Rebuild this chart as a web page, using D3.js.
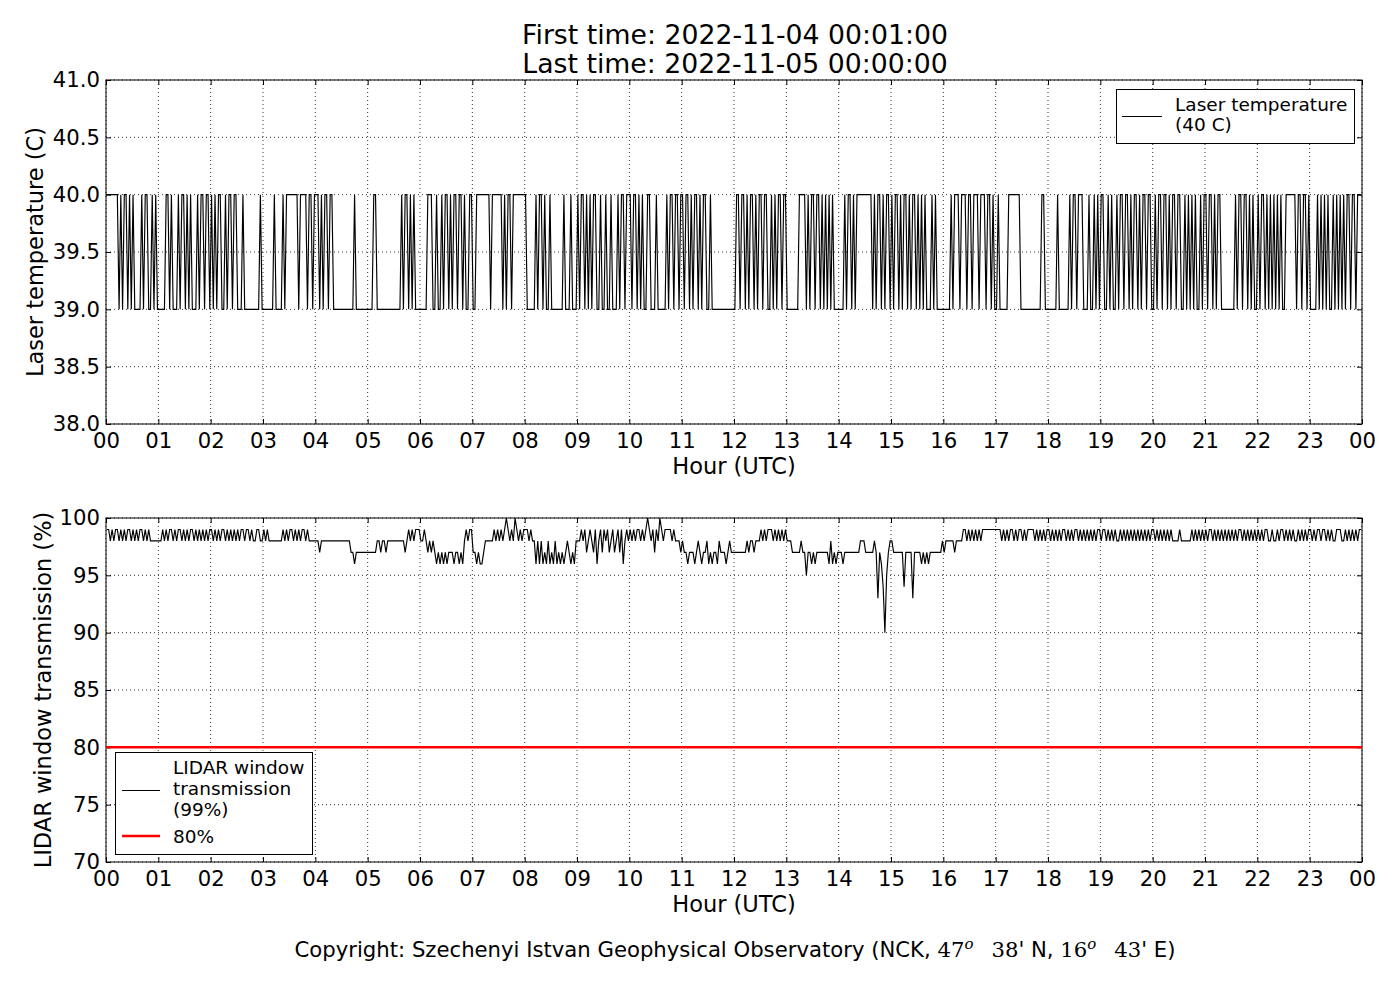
<!DOCTYPE html>
<html><head><meta charset="utf-8">
<script src="https://cdn.jsdelivr.net/npm/d3@7"></script>
<style>body{margin:0;background:#fff} text{font-family:"DejaVu Sans","Bitstream Vera Sans",sans-serif;fill:#000}</style>
</head><body><svg id="c" width="1400" height="1000"></svg>
<script>
// ---- data ----
// Laser temperature: one string per hour, each char a 2-minute slot, '1' = 40 C, '0' = 39 C
const tempHours = [
  "111111101011010100001011001010",
  "000011010001011010100010110110",
  "101011001011011000100000000010",
  "000000100001011111110111101101",
  "110101101100000000000010000000",
  "000110000000000000010110101000",
  "000011100100101101011011010011",
  "001111111101111110101101111111",
  "100000101101001000000010001000",
  "101101010110010010010001011011",
  "101101010011000100000101101101",
  "101101011010110010000000000000",
  "011011010110101101100101011011",
  "000000011110101101101010101000",
  "000101101011111111101011010110",
  "101101011010110101010001010000",
  "000010111011101101110111011010",
  "010000011111110000000000001100",
  "000001000000101101110001001010",
  "110010100101101101011010110110",
  "010110110101101100101010100101",
  "101101011000000001011011010100",
  "101101010101010011111101101101",
  "000010101010010101010110110111"
];
// LIDAR window transmission: one string per hour, each char a slot, digit d = 90+d %, 'X' = 100 %
const transHours = [
  "998989989898998989899898988888",
  "889898998989989898998989898989",
  "989898998989898989989989889988",
  "989" + "88888888" + "989899898989989" + "8888",
  "88" + "7" + "88888888888888888" + "77" + "6" + "7777777",
  "77777" + "887887" + "8888888888" + "7" + "89898999",
  "889" + "8787876" + "767676777677676" + "89899",
  "7767667" + "88888" + "9898989" + "X" + "9898" + "X" + "98989",
  "99898" + "86868676867686" + "76767876768",
  "8898" + "97898796897989789789796898",
  "9898998989" + "X" + "989798" + "X" + "989999898" + "887",
  "877677767876778676776877767877",
  "7777777" + "8" + "7" + "8878" + "88" + "989899989898989",
  "888" + "77777" + "8" + "77" + "5" + "7" + "76767" + "777777" + "6" + "8" + "6767",
  "776" + "777777777" + "888" + "77777" + "8" + "7" + "3" + "7" + "6" + "4" + "0" + "5" + "7" + "8",
  "8" + "777777" + "4" + "7777" + "3" + "7777" + "67676" + "7777777" + "8",
  "7" + "88888" + "7" + "8888" + "99898989898" + "99999999",
  "999898989989899898999989898989",
  "989898989989898998989898989899",
  "899898989889898989898989898989",
  "989898989898888988888898989898",
  "989989898989898989899898989898",
  "989899889889899898989889898989",
  "989899899898988999889898989899"
];
const hourTicks = d3.range(0, 25);
const hourLabels = hourTicks.map(h => String(h % 24).padStart(2, "0"));
const tempTicks = [38.0, 38.5, 39.0, 39.5, 40.0, 40.5, 41.0];
const transTicks = [70, 75, 80, 85, 90, 95, 100];
const thresholdValue = 80;
const titleLines = ["First time: 2022-11-04 00:01:00", "Last time: 2022-11-05 00:00:00"];
const tempLegend = ["Laser temperature", "(40 C)"];
const transLegend = ["LIDAR window", "transmission", "(99%)"];
const thresholdLegend = "80%";

// ---- helpers ----
function decode(hours, map) {
  const pts = [];
  hours.forEach((s, h) => {
    const n = s.length;
    for (let i = 0; i < n; i++) pts.push({ t: h * 60 + (i + 0.5) * 60 / n, v: map(s[i]) });
  });
  return pts;
}
const tempData = decode(tempHours, c => c === "1" ? 40 : 39);
const transData = decode(transHours, c => c === "X" ? 100 : 90 + (+c));

const svg = d3.select("#c");
const L = 106, R = 1362;
const x = d3.scaleLinear().domain([0, 1440]).range([L, R]);

function panel(top, bottom, domain, ticks, fmt, ylabel, ylabelX, data) {
  const y = d3.scaleLinear().domain(domain).range([bottom, top]);
  const g = svg.append("g");
  const grid = g.append("g").attr("stroke", "#000").attr("stroke-width", 0.8).attr("stroke-dasharray", "1,3").attr("fill", "none");
  hourTicks.forEach(h => grid.append("line").attr("x1", x(h * 60)).attr("x2", x(h * 60)).attr("y1", top).attr("y2", bottom));
  ticks.forEach(v => grid.append("line").attr("x1", L).attr("x2", R).attr("y1", y(v)).attr("y2", y(v)));
  const clipId = "clip" + top;
  svg.append("clipPath").attr("id", clipId).append("rect").attr("x", L).attr("y", top - 1).attr("width", R - L).attr("height", bottom - top + 2);
  g.append("path").datum(data).attr("clip-path", `url(#${clipId})`)
    .attr("fill", "none").attr("stroke", "#000").attr("stroke-width", 1.15)
    .attr("d", d3.line().x(d => x(d.t)).y(d => y(d.v)));
  // axes with inward ticks on all sides
  const xb = d3.axisBottom(x).tickValues(hourTicks.map(h => h * 60)).tickFormat((d, i) => hourLabels[i]).tickSizeInner(-5).tickSizeOuter(0).tickPadding(9);
  const xt = d3.axisTop(x).tickValues(hourTicks.map(h => h * 60)).tickFormat("").tickSizeInner(-5).tickSizeOuter(0);
  const yl = d3.axisLeft(y).tickValues(ticks).tickFormat(fmt).tickSizeInner(-5).tickSizeOuter(0).tickPadding(6);
  const yr = d3.axisRight(y).tickValues(ticks).tickFormat("").tickSizeInner(-5).tickSizeOuter(0);
  const ax = [
    g.append("g").attr("transform", `translate(0,${bottom})`).call(xb),
    g.append("g").attr("transform", `translate(0,${top})`).call(xt),
    g.append("g").attr("transform", `translate(${L},0)`).call(yl),
    g.append("g").attr("transform", `translate(${R},0)`).call(yr)
  ];
  ax.forEach(a => { a.select(".domain").remove(); a.selectAll("line").attr("stroke", "#000"); a.selectAll("text").attr("font-size", 21.2).attr("fill", "#000").attr("font-family", "DejaVu Sans"); });
  g.append("rect").attr("x", L).attr("y", top).attr("width", R - L).attr("height", bottom - top).attr("fill", "none").attr("stroke", "#000").attr("stroke-width", 1);
  g.append("text").attr("x", (L + R) / 2).attr("y", bottom + 50).attr("text-anchor", "middle").attr("font-size", 22.5).text("Hour (UTC)");
  g.append("text").attr("transform", `translate(${ylabelX},${(top + bottom) / 2}) rotate(-90)`).attr("text-anchor", "middle").attr("font-size", 22.5).text(ylabel);
  return { y, g };
}

// title
svg.selectAll(".title").data(titleLines).enter().append("text").attr("class", "title")
  .attr("x", 735).attr("y", (d, i) => 44 + i * 29).attr("text-anchor", "middle").attr("font-size", 26.7).text(d => d);

// top panel
const p1 = panel(80, 424, [38, 41], tempTicks, d3.format(".1f"), "Laser temperature (C)", 43, tempData);
// top legend
{
  const lg = svg.append("g");
  lg.append("rect").attr("x", 1116.5).attr("y", 89.5).attr("width", 238).attr("height", 54).attr("fill", "#fff").attr("stroke", "#000");
  lg.append("line").attr("x1", 1122).attr("x2", 1162).attr("y1", 116.5).attr("y2", 116.5).attr("stroke", "#000").attr("stroke-width", 1);
  lg.selectAll("text").data(tempLegend).enter().append("text").attr("x", 1175).attr("y", (d, i) => 111 + i * 20).attr("font-size", 18.5).text(d => d);
}

// bottom panel
const p2 = panel(518, 862, [70, 100], transTicks, d3.format("d"), "LIDAR window transmission (%)", 51, transData);
p2.g.append("line").attr("x1", L).attr("x2", R).attr("y1", p2.y(thresholdValue)).attr("y2", p2.y(thresholdValue))
  .attr("stroke", "#ff0000").attr("stroke-width", 2.5);
{
  const lg = svg.append("g");
  lg.append("rect").attr("x", 115.5).attr("y", 752.5).attr("width", 197).attr("height", 102).attr("fill", "#fff").attr("stroke", "#000");
  lg.append("line").attr("x1", 122).attr("x2", 160).attr("y1", 790.5).attr("y2", 790.5).attr("stroke", "#000").attr("stroke-width", 1);
  lg.selectAll("text.l").data(transLegend).enter().append("text").attr("class", "l").attr("x", 173).attr("y", (d, i) => 774 + i * 21).attr("font-size", 18.5).text(d => d);
  lg.append("line").attr("x1", 122).attr("x2", 160).attr("y1", 836).attr("y2", 836).attr("stroke", "#ff0000").attr("stroke-width", 2.5);
  lg.append("text").attr("x", 173).attr("y", 843).attr("font-size", 18.5).text(thresholdLegend);
}

// footer
{
  const t = svg.append("text").attr("x", 735).attr("y", 957).attr("text-anchor", "middle").attr("font-size", 21.2);
  const serif = "DejaVu Serif";
  t.append("tspan").text("Copyright: Szechenyi Istvan Geophysical Observatory (NCK, ");
  t.append("tspan").attr("font-family", serif).text("47");
  t.append("tspan").attr("font-family", serif).attr("font-style", "italic").attr("font-size", 15).attr("dy", -8).text("o");
  t.append("tspan").attr("font-family", serif).attr("dy", 8).attr("dx", 18).text("38");
  t.append("tspan").text("' N, ");
  t.append("tspan").attr("font-family", serif).text("16");
  t.append("tspan").attr("font-family", serif).attr("font-style", "italic").attr("font-size", 15).attr("dy", -8).text("o");
  t.append("tspan").attr("font-family", serif).attr("dy", 8).attr("dx", 18).text("43");
  t.append("tspan").text("' E)");
}
</script></body></html>
